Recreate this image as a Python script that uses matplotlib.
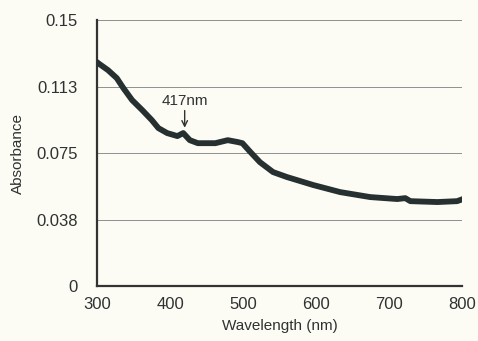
import numpy as np
import matplotlib
matplotlib.use("Agg")
import matplotlib.pyplot as plt

plt.rcParams['font.family'] = ['Liberation Sans', 'DejaVu Sans']

# Absorbance spectrum
wavelength = [300, 302, 315, 327, 336, 348, 362, 375, 384, 396, 410, 418, 427, 438,
              462, 479, 493, 499, 510, 523, 541, 560, 596, 633, 674, 711, 722, 729,
              766, 793, 801]
absorbance = [0.1263, 0.1256, 0.1218, 0.1173, 0.1117, 0.1049, 0.0992, 0.0936, 0.0891,
              0.0863, 0.0846, 0.0863, 0.0823, 0.0806, 0.0806, 0.0823, 0.0812, 0.0806,
              0.0756, 0.0699, 0.0643, 0.0615, 0.0570, 0.0530, 0.0502, 0.0491, 0.0496,
              0.0479, 0.0474, 0.0479, 0.0491]

y_ticks = [0, 0.0375, 0.075, 0.1125, 0.15]
y_tick_labels = ['0', '0.038', '0.075', '0.113', '0.15']
x_ticks = [300, 400, 500, 600, 700, 800]

bg = '#fdfcf4'
ink = '#2e3232'
fig = plt.figure(figsize=(4.78, 3.41), dpi=100, facecolor=bg)
ax = fig.add_axes([0.203, 0.161, 0.764, 0.78], facecolor=bg)

ax.plot(wavelength, absorbance, color='#263030', lw=4.2,
        solid_capstyle='round', solid_joinstyle='round', zorder=3)

ax.set_xlim(300, 800)
ax.set_ylim(0, 0.15)
ax.set_xticks(x_ticks)
ax.set_yticks(y_ticks)
ax.set_yticklabels(y_tick_labels)
ax.tick_params(length=0, labelsize=12, colors=ink)
ax.tick_params(axis='y', pad=14)
ax.tick_params(axis='x', pad=8)
ax.grid(axis='y', color='#8f8f8f', lw=0.7)
ax.set_axisbelow(True)

for s in ['top', 'right']:
    ax.spines[s].set_visible(False)
for s in ['left', 'bottom']:
    ax.spines[s].set_color('#333333')
    ax.spines[s].set_linewidth(1.6)

ax.set_xlabel('Wavelength (nm)', fontsize=11, color=ink, labelpad=5)
ax.set_ylabel('Absorbance', fontsize=11, color=ink, labelpad=8)

ax.text(420, 0.102, '417nm', ha='center', va='baseline', fontsize=11, color=ink)
ax.annotate('', xy=(420, 0.0893), xytext=(420, 0.0990),
            arrowprops=dict(arrowstyle='->', color=ink, lw=1.0,
                            shrinkA=0, shrinkB=0))

fig.savefig('out.png', dpi=100, facecolor=bg)
